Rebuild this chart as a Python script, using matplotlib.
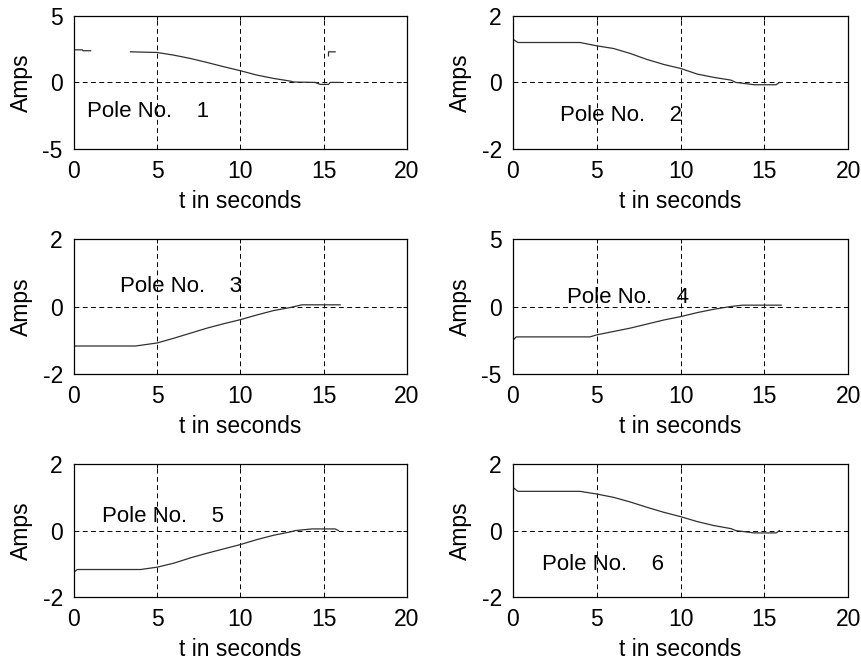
import numpy as np
import matplotlib
matplotlib.use("Agg")
import matplotlib.pyplot as plt

plt.rcParams["font.family"] = ["Liberation Sans", "DejaVu Sans"]
plt.rcParams["font.size"] = 16.5
plt.rcParams["axes.unicode_minus"] = False

nan = np.nan

# Pole current traces (breakpoints)
t1 = [0, 0.5, 0.55, 1.0, nan, 3.4, 5, 6, 7, 8, 9, 10, 11, 12, 13, 13.2, 14.5, 14.8, 15.3, 15.4, 16,
      nan, 15.3, 15.3, 15.7]
i1 = [2.45, 2.45, 2.38, 2.38, nan, 2.3, 2.25, 2.05, 1.8, 1.5, 1.18, 0.88, 0.55, 0.3, 0.1, 0.03, 0.0, -0.15, -0.15, 0.0, 0.0,
      nan, 2.0, 2.3, 2.3]

t2 = [0, 0.3, 4, 5, 6, 7, 8, 9, 10, 11, 12, 13, 13.3, 14.4, 15.7, 15.9]
i2 = [1.3, 1.2, 1.2, 1.1, 1.02, 0.87, 0.69, 0.54, 0.42, 0.25, 0.15, 0.07, 0.0, -0.07, -0.07, 0.0]

t3 = [0, 3.7, 5, 6, 7, 8, 9, 10, 11, 12, 13, 13.7, 16]
i3 = [-1.17, -1.17, -1.08, -0.94, -0.79, -0.64, -0.51, -0.39, -0.25, -0.12, -0.03, 0.05, 0.05]

t4 = [0, 0.2, 4.6, 5, 6, 7, 8, 9, 10, 11, 12, 13, 13.7, 16]
i4 = [-2.5, -2.25, -2.25, -2.1, -1.85, -1.6, -1.3, -1.0, -0.75, -0.45, -0.2, 0.0, 0.1, 0.1]

t5 = [0, 0.2, 4, 5, 6, 7, 8, 9, 10, 11, 12, 13, 13.3, 14.3, 15.7, 15.9]
i5 = [-1.25, -1.17, -1.17, -1.1, -0.98, -0.82, -0.68, -0.55, -0.42, -0.27, -0.14, -0.04, 0.0, 0.05, 0.05, 0.0]

t6 = [0, 0.3, 4, 5, 6, 7, 8, 9, 10, 11, 12, 13, 13.3, 14.4, 15.7, 15.9]
i6 = [1.3, 1.18, 1.18, 1.1, 1.0, 0.86, 0.7, 0.55, 0.42, 0.27, 0.15, 0.06, 0.0, -0.07, -0.07, 0.0]

traces = [(t1, i1), (t2, i2), (t3, i3), (t4, i4), (t5, i5), (t6, i6)]
ylims = [5, 2, 2, 5, 2, 2]
label_pos = [(0.8, -2.2), (2.8, -1.0), (2.75, 0.59), (3.2, 0.69), (1.7, 0.42), (1.75, -1.03)]
xticks = [0, 5, 10, 15, 20]

# axes boxes in figure fractions
lefts = [0.0858, 0.595]
widths = [0.386, 0.389]
bottoms = [0.775, 0.435, 0.098]
heights = [0.201, 0.204, 0.201]

fig = plt.figure(figsize=(8.62, 6.62), dpi=100)

for k, (t, amps) in enumerate(traces):
    row, col = k // 2, k % 2
    ax = fig.add_axes([lefts[col], bottoms[row], widths[col], heights[row]])
    ax.plot(t, amps, color="#303030", lw=0.9)
    lim = ylims[k]
    ax.set_xlim(0, 20)
    ax.set_ylim(-lim, lim)
    ax.set_xticks(xticks)
    ax.set_yticks([-lim, 0, lim])
    ax.grid(True, color="k", linestyle=(0, (5, 3.5)), lw=0.7)
    ax.tick_params(direction="in", length=3, width=0.7, top=True, right=True, pad=8)
    for s in ax.spines.values():
        s.set_linewidth(0.9)
    ax.set_xlabel("t in seconds", labelpad=5)
    ax.set_ylabel("Amps", labelpad=7)
    x0, y0 = label_pos[k]
    ax.text(x0, y0, "Pole No.    %d" % (k + 1), va="center", ha="left", fontsize=16)

fig.savefig("out.png", dpi=100)
